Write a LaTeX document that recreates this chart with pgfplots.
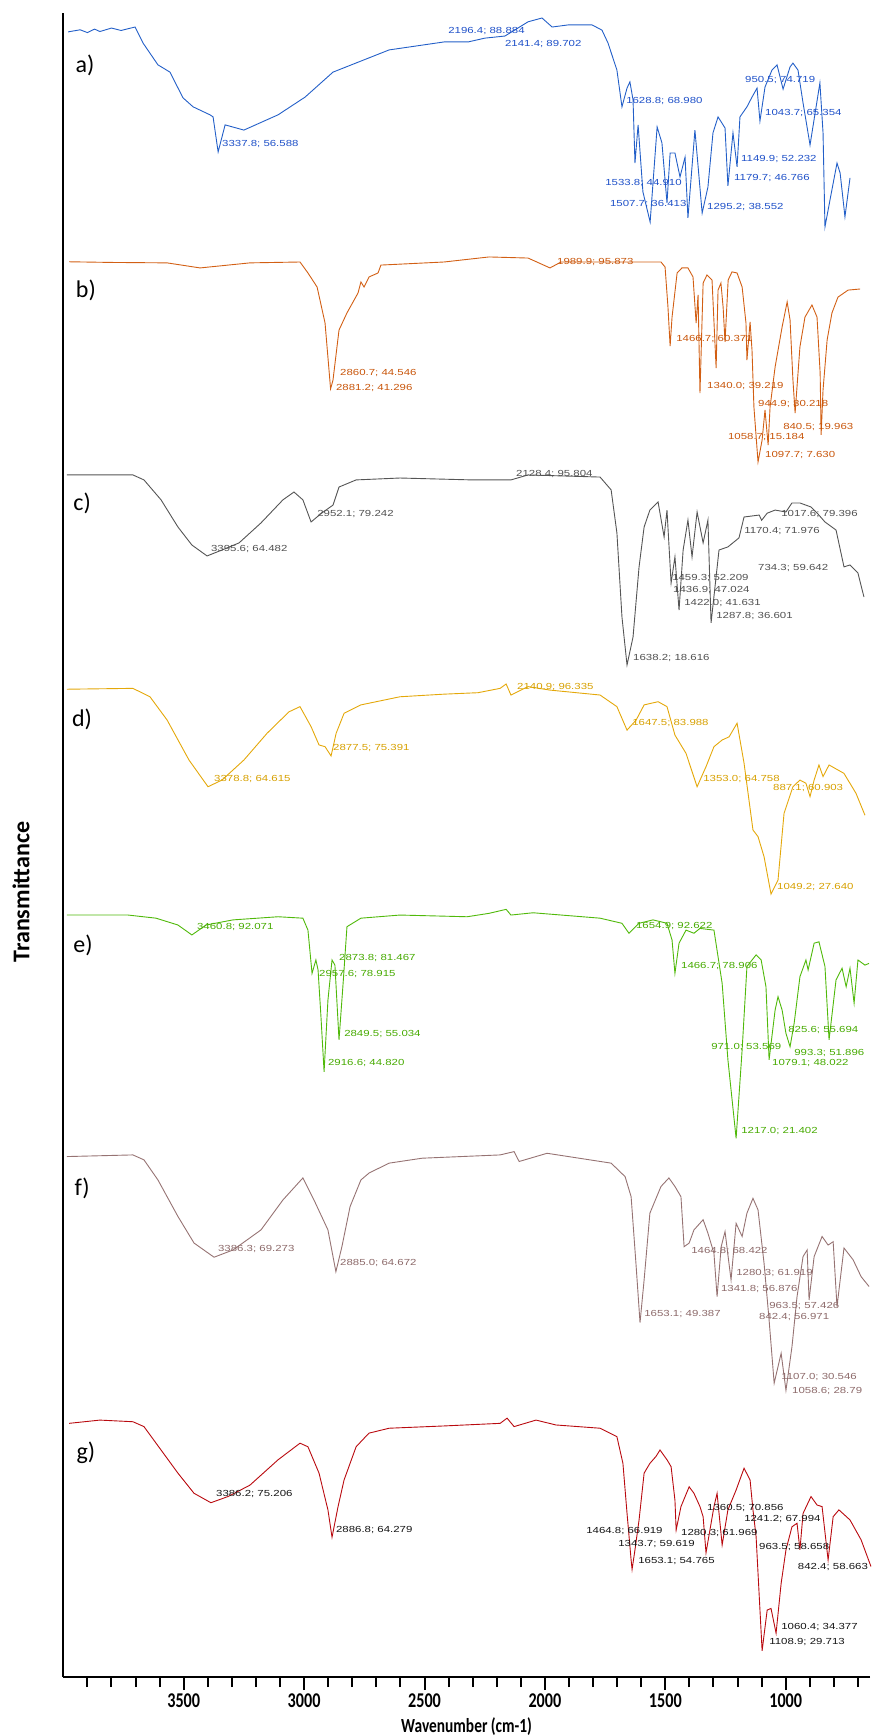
\documentclass[border=0pt]{standalone}
\usepackage{fontspec}
\setmainfont{Carlito}
\newfontfamily\annfont[FakeStretch=1.3]{Liberation Sans}
\newfontfamily\tickfont[FakeStretch=0.77]{Carlito}
\usepackage{pgfplots}
\usepackage{pgfplotstable}
\pgfplotsset{compat=1.18}
\definecolor{cA}{RGB}{35,95,200}
\definecolor{cB}{RGB}{210,95,20}
\definecolor{cC}{RGB}{85,85,85}
\definecolor{cD}{RGB}{228,168,10}
\definecolor{cE}{RGB}{80,185,10}
\definecolor{cF}{RGB}{150,115,115}
\definecolor{cG}{RGB}{185,10,15}
\definecolor{tA}{RGB}{30,80,200}
\definecolor{tB}{RGB}{200,85,10}
\definecolor{tC}{RGB}{80,80,80}
\definecolor{tD}{RGB}{215,160,0}
\definecolor{tE}{RGB}{70,170,0}
\definecolor{tF}{RGB}{140,105,105}
\definecolor{tG}{RGB}{20,20,20}

\pgfplotstableread[row sep=\\]{wn T\\
3980 91.2\\ 3930 91.8\\ 3900 91.0\\ 3870 92.0\\ 3848 91.3\\ 3800 92.3\\ 3760 91.6\\ 3702 92.6\\ 3669 88.0\\ 3607 81.7\\ 3557 79.6\\ 3503 72.2\\ 3461 69.6\\ 3391 67.3\\ 3378 66.7\\ 3357 56.6\\ 3328 64.4\\ 3250 62.9\\ 3108 67.3\\ 2996 72.4\\ 2880 79.6\\ 2647 86.0\\ 2419 88.3\\ 2319 88.3\\ 2249 89.4\\ 2166 90.0\\ 2070 94.1\\ 2012 95.2\\ 1970 92.6\\ 1904 93.2\\ 1804 93.2\\ 1763 91.7\\ 1738 88.0\\ 1701 80.2\\ 1680 69.6\\ 1659 75.0\\ 1647 76.8\\ 1634 71.6\\ 1626 53.4\\ 1613 64.4\\ 1593 45.1\\ 1563 36.4\\ 1534 63.8\\ 1514 59.2\\ 1493 41.9\\ 1480 56.3\\ 1460 56.3\\ 1439 49.4\\ 1418 55.1\\ 1406 37.6\\ 1377 62.9\\ 1347 39.0\\ 1323 46.5\\ 1302 62.1\\ 1281 66.7\\ 1252 63.5\\ 1240 46.8\\ 1219 62.1\\ 1202 52.3\\ 1190 66.7\\ 1161 69.6\\ 1140 72.4\\ 1119 75.0\\ 1107 65.5\\ 1086 75.3\\ 1057 80.2\\ 1036 81.7\\ 1011 74.7\\ 982 81.1\\ 970 82.2\\ 949 80.2\\ 928 70.7\\ 899 58.6\\ 858 76.5\\ 845 62.1\\ 837 35.0\\ 816 42.8\\ 787 53.4\\ 774 50.5\\ 754 37.9\\ 733 49.1\\
}\dataA
\pgfplotstableread[row sep=\\]{wn T\\
3976 98.7\\ 3800 98.4\\ 3569 98.2\\ 3432 95.9\\ 3225 98.2\\ 3017 98.6\\ 2984 93.6\\ 2946 87.2\\ 2913 70.8\\ 2890 40.8\\ 2880 44.8\\ 2855 67.6\\ 2822 75.4\\ 2776 84.5\\ 2764 89.5\\ 2751 87.2\\ 2730 91.8\\ 2693 93.6\\ 2681 97.2\\ 2419 98.6\\ 2232 100.9\\ 2070 100.4\\ 1979 95.9\\ 1933 98.6\\ 1518 98.6\\ 1501 96.3\\ 1489 78.1\\ 1480 60.3\\ 1472 73.5\\ 1451 93.6\\ 1431 95.9\\ 1406 95.9\\ 1385 91.8\\ 1372 70.8\\ 1364 83.6\\ 1356 38.9\\ 1343 89.0\\ 1327 92.7\\ 1306 90.4\\ 1289 50.3\\ 1281 85.8\\ 1269 89.0\\ 1260 78.1\\ 1252 62.2\\ 1239 90.4\\ 1223 94.1\\ 1202 93.6\\ 1181 87.2\\ 1165 70.8\\ 1161 53.9\\ 1148 71.3\\ 1140 58.5\\ 1132 32.5\\ 1115 7.5\\ 1098 17.5\\ 1086 31.2\\ 1073 15.2\\ 1065 32.5\\ 1044 50.8\\ 1015 69.0\\ 994 80.4\\ 982 72.2\\ 970 44.8\\ 961 29.8\\ 941 59.9\\ 920 73.5\\ 891 79.0\\ 870 73.5\\ 857 48.0\\ 853 19.8\\ 845 40.3\\ 828 63.1\\ 808 75.4\\ 783 82.6\\ 741 85.8\\ 691 86.3\\
}\dataB
\pgfplotstableread[row sep=\\]{wn T\\
3985 98.6\\ 3711 98.6\\ 3665 96.5\\ 3594 88.1\\ 3524 76.7\\ 3466 69.1\\ 3403 64.5\\ 3341 67.0\\ 3270 70.0\\ 3179 78.4\\ 3088 88.1\\ 3042 91.4\\ 3005 88.1\\ 2971 78.8\\ 2926 82.6\\ 2880 85.9\\ 2855 93.5\\ 2784 96.5\\ 2602 97.3\\ 2303 96.5\\ 2141 96.5\\ 2070 98.6\\ 1771 97.7\\ 1725 92.3\\ 1701 74.2\\ 1680 38.8\\ 1659 18.6\\ 1634 30.4\\ 1609 59.9\\ 1588 76.7\\ 1564 83.8\\ 1530 87.2\\ 1505 72.5\\ 1493 83.8\\ 1476 53.1\\ 1460 64.1\\ 1443 41.7\\ 1426 67.0\\ 1406 79.6\\ 1389 64.1\\ 1368 83.0\\ 1343 70.0\\ 1323 79.6\\ 1310 36.3\\ 1277 67.0\\ 1240 68.3\\ 1194 72.1\\ 1173 80.9\\ 1110 81.7\\ 1100 79.5\\ 1077 82.5\\ 1044 83.8\\ 999 83.0\\ 974 86.8\\ 941 86.8\\ 895 85.1\\ 870 82.6\\ 837 78.8\\ 791 75.4\\ 758 59.9\\ 733 60.7\\ 700 57.3\\ 675 47.2\\
}\dataC
\pgfplotstableread[row sep=\\]{wn T\\
3985 98.2\\ 3711 98.5\\ 3640 95.6\\ 3569 87.6\\ 3478 73.8\\ 3399 64.6\\ 3341 66.9\\ 3250 73.8\\ 3154 83.0\\ 3063 90.4\\ 3017 92.2\\ 2971 85.3\\ 2938 79.0\\ 2913 78.4\\ 2888 75.2\\ 2867 83.0\\ 2834 89.9\\ 2764 92.8\\ 2602 95.6\\ 2419 96.5\\ 2278 97.0\\ 2186 98.5\\ 2161 100.0\\ 2141 96.2\\ 2070 99.1\\ 1979 97.9\\ 1771 96.2\\ 1701 92.2\\ 1659 84.1\\ 1621 87.6\\ 1588 92.8\\ 1530 93.9\\ 1493 92.2\\ 1460 82.4\\ 1414 76.1\\ 1368 64.6\\ 1331 71.5\\ 1298 78.4\\ 1264 80.7\\ 1235 81.8\\ 1202 86.5\\ 1173 72.7\\ 1136 49.7\\ 1115 47.4\\ 1090 40.5\\ 1061 27.6\\ 1032 32.4\\ 1007 55.4\\ 970 64.6\\ 941 66.9\\ 916 65.8\\ 899 61.2\\ 882 66.9\\ 862 72.1\\ 845 68.1\\ 820 72.1\\ 758 69.2\\ 708 62.3\\ 671 54.8\\
}\dataD
\pgfplotstableread[row sep=\\]{wn T\\
3985 99.9\\ 3731 99.9\\ 3615 98.8\\ 3524 96.4\\ 3466 92.9\\ 3407 96.4\\ 3295 98.2\\ 3108 99.3\\ 3005 98.8\\ 2984 94.6\\ 2967 79.4\\ 2951 84.1\\ 2942 80.6\\ 2930 64.2\\ 2917 44.8\\ 2901 70.0\\ 2884 84.1\\ 2872 82.3\\ 2855 56.0\\ 2838 75.9\\ 2822 95.8\\ 2764 98.8\\ 2602 99.9\\ 2323 99.3\\ 2232 100.5\\ 2161 101.9\\ 2141 99.9\\ 2049 100.7\\ 1771 98.8\\ 1680 97.0\\ 1651 93.5\\ 1609 97.0\\ 1551 98.2\\ 1493 97.0\\ 1472 91.1\\ 1460 79.4\\ 1443 90.0\\ 1414 94.6\\ 1381 93.5\\ 1356 95.2\\ 1298 94.6\\ 1264 75.9\\ 1240 49.0\\ 1206 21.4\\ 1181 52.5\\ 1161 81.8\\ 1123 85.9\\ 1102 84.1\\ 1082 74.7\\ 1069 49.0\\ 1044 66.5\\ 1032 71.2\\ 1015 66.5\\ 999 58.3\\ 982 53.6\\ 965 61.8\\ 941 78.2\\ 916 84.1\\ 907 80.6\\ 882 90.0\\ 862 90.5\\ 837 81.8\\ 820 56.0\\ 791 77.1\\ 766 81.2\\ 749 74.7\\ 733 81.2\\ 716 68.9\\ 700 84.1\\ 671 82.3\\ 654 82.9\\
}\dataE
\pgfplotstableread[row sep=\\]{wn T\\
3985 99.9\\ 3711 100.4\\ 3665 98.9\\ 3607 92.8\\ 3524 81.7\\ 3457 73.6\\ 3374 69.3\\ 3295 71.5\\ 3179 77.6\\ 3088 86.7\\ 3005 93.4\\ 2959 86.7\\ 2901 77.6\\ 2868 64.9\\ 2843 72.5\\ 2809 84.7\\ 2764 92.8\\ 2730 94.9\\ 2647 97.9\\ 2510 99.4\\ 2186 100.4\\ 2128 101.4\\ 2107 98.4\\ 1991 100.9\\ 1725 97.9\\ 1667 93.8\\ 1642 87.7\\ 1622 67.5\\ 1605 49.4\\ 1588 62.4\\ 1564 82.7\\ 1518 90.8\\ 1485 93.4\\ 1460 90.8\\ 1435 87.7\\ 1422 72.5\\ 1401 73.6\\ 1381 77.6\\ 1343 80.7\\ 1323 76.6\\ 1298 70.5\\ 1285 57.3\\ 1268 72.5\\ 1252 77.1\\ 1227 62.4\\ 1206 79.6\\ 1181 75.6\\ 1161 82.7\\ 1136 87.2\\ 1115 83.7\\ 1090 67.5\\ 1069 50.2\\ 1048 31.0\\ 1019 40.1\\ 999 28.8\\ 974 42.1\\ 953 57.3\\ 928 69.5\\ 911 71.5\\ 903 56.3\\ 882 69.5\\ 849 75.6\\ 824 73.0\\ 803 74.0\\ 787 54.3\\ 758 72.1\\ 720 68.5\\ 687 63.4\\ 654 60.4\\
}\dataF
\pgfplotstableread[row sep=\\]{wn T\\
3976 99.6\\ 3848 100.6\\ 3711 100.1\\ 3665 98.6\\ 3594 91.4\\ 3524 84.3\\ 3457 78.1\\ 3387 75.2\\ 3316 77.1\\ 3225 80.6\\ 3108 88.4\\ 3017 93.5\\ 2984 92.4\\ 2938 84.3\\ 2901 73.0\\ 2884 64.6\\ 2859 74.0\\ 2834 82.2\\ 2784 92.4\\ 2751 95.0\\ 2730 96.6\\ 2647 98.1\\ 2419 98.8\\ 2186 99.6\\ 2157 101.2\\ 2128 98.6\\ 2037 100.6\\ 1954 99.1\\ 1771 98.1\\ 1701 95.5\\ 1676 87.3\\ 1659 72.0\\ 1642 57.6\\ 1638 54.7\\ 1626 60.7\\ 1609 69.9\\ 1588 84.3\\ 1564 87.3\\ 1539 89.4\\ 1522 91.4\\ 1493 88.4\\ 1476 86.3\\ 1460 76.0\\ 1455 66.8\\ 1435 74.0\\ 1401 80.1\\ 1381 78.1\\ 1356 74.0\\ 1343 70.9\\ 1331 59.8\\ 1298 74.0\\ 1285 78.1\\ 1264 62.2\\ 1240 73.0\\ 1206 79.1\\ 1173 85.8\\ 1148 82.2\\ 1136 73.0\\ 1123 64.8\\ 1098 29.7\\ 1077 42.2\\ 1061 42.7\\ 1040 35.1\\ 1019 50.4\\ 999 60.7\\ 974 67.8\\ 953 68.9\\ 941 60.7\\ 928 71.9\\ 895 77.1\\ 870 74.5\\ 849 74.0\\ 824 57.6\\ 803 70.9\\ 779 73.0\\ 733 69.9\\ 687 63.8\\ 646 55.6\\
}\dataG

\tikzset{ann/.style={anchor=west, inner sep=0pt, font=\annfont\fontsize{8.8}{8.8}\selectfont},
  plab/.style={anchor=center, inner sep=0pt, font=\fontsize{24}{24}\selectfont}}

\begin{document}
\begin{tikzpicture}
\begin{axis}[name=ax, at={(0,0)}, anchor=south west,
  scale only axis, width=806.7pt, height=1664pt,
  xmin=650, xmax=4000, ymin=0, ymax=1664, x dir=reverse,
  axis x line=bottom, axis y line=left,
  axis line style={-, line width=2.4pt, black},
  ytick=\empty,
  xtick={1000,1500,2000,2500,3000,3500},
  minor xtick={700,800,...,3900},
  tick align=outside,
  major tick length=13pt, minor tick length=10pt,
  major tick style={line width=2pt, black},
  minor tick style={line width=2pt, black},
  xticklabel style={font=\tickfont\bfseries\fontsize{21}{21}\selectfont, anchor=north, inner sep=0pt, yshift=-4pt},
  /pgf/number format/assume math mode=true,
  /pgf/number format/1000 sep={},
  clip=false]

\addplot[cA, line width=0.9pt] table[x=wn, y expr={1328.64+3.47*\thisrow{T}}] {\dataA};
\addplot[cB, line width=0.9pt] table[x=wn, y expr={1198.56+2.195*\thisrow{T}}] {\dataB};
\addplot[cC, line width=0.9pt] table[x=wn, y expr={967.79+2.376*\thisrow{T}}] {\dataC};
\addplot[cD, line width=0.9pt] table[x=wn, y expr={702.79+2.902*\thisrow{T}}] {\dataD};
\addplot[cE, line width=0.9pt] table[x=wn, y expr={477.83+2.844*\thisrow{T}}] {\dataE};
\addplot[cF, line width=0.9pt] table[x=wn, y expr={191.86+3.289*\thisrow{T}}] {\dataF};
\addplot[cG, line width=0.9pt] table[x=wn, y expr={-70.35+3.253*\thisrow{T}}] {\dataG};

% panel letters
\node[plab] at (axis cs:3910,1612) {a)};
\node[plab] at (axis cs:3906,1387) {b)};
\node[plab] at (axis cs:3922,1174) {c)};
\node[plab] at (axis cs:3922,958) {d)};
\node[plab] at (axis cs:3918,732) {e)};
\node[plab] at (axis cs:3922,489) {f)};
\node[plab] at (axis cs:3906,224) {g)};

% a
\node[ann, text=tA] at (axis cs:3341,1533) {3337.8; 56.588};
\node[ann, text=tA] at (axis cs:2402,1646) {2196.4; 88.884};
\node[ann, text=tA] at (axis cs:2166,1633) {2141.4; 89.702};
\node[ann, text=tA] at (axis cs:1663,1576) {1628.8; 68.980};
\node[ann, text=tA] at (axis cs:1750,1494) {1533.8; 44.910};
\node[ann, text=tA] at (axis cs:1730,1473) {1507.7; 36.413};
\node[ann, text=tA] at (axis cs:1327,1470) {1295.2; 38.552};
\node[ann, text=tA] at (axis cs:1215,1499) {1179.7; 46.766};
\node[ann, text=tA] at (axis cs:1186,1518) {1149.9; 52.232};
\node[ann, text=tA] at (axis cs:1086,1564) {1043.7; 65.354};
\node[ann, text=tA] at (axis cs:1169,1597) {950.5; 74.719};
% b
\node[ann, text=tB] at (axis cs:1950,1415) {1989.9; 95.873};
\node[ann, text=tB] at (axis cs:2851,1304) {2860.7; 44.546};
\node[ann, text=tB] at (axis cs:2868,1289) {2881.2; 41.296};
\node[ann, text=tB] at (axis cs:1455,1338) {1466.7; 60.371};
\node[ann, text=tB] at (axis cs:1327,1291) {1340.0; 39.219};
\node[ann, text=tB] at (axis cs:1115,1273) {944.9; 30.218};
\node[ann, text=tB] at (axis cs:1011,1250) {840.5; 19.963};
\node[ann, text=tB] at (axis cs:1240,1240) {1058.7; 15.184};
\node[ann, text=tB] at (axis cs:1086,1222) {1097.7; 7.630};
% c
\node[ann, text=tC] at (axis cs:2120,1203) {2128.4; 95.804};
\node[ann, text=tC] at (axis cs:2946,1163) {2952.1; 79.242};
\node[ann, text=tC] at (axis cs:3387,1128) {3395.6; 64.482};
\node[ann, text=tC] at (axis cs:1019,1163) {1017.6; 79.396};
\node[ann, text=tC] at (axis cs:1173,1146) {1170.4; 71.976};
\node[ann, text=tC] at (axis cs:1115,1109) {734.3; 59.642};
\node[ann, text=tC] at (axis cs:1472,1099) {1459.3; 52.209};
\node[ann, text=tC] at (axis cs:1468,1087) {1436.9; 47.024};
\node[ann, text=tC] at (axis cs:1422,1074) {1422.0; 41.631};
\node[ann, text=tC] at (axis cs:1289,1061) {1287.8; 36.601};
\node[ann, text=tC] at (axis cs:1634,1019) {1638.2; 18.616};
% d
\node[ann, text=tD] at (axis cs:2116,990) {2140.9; 96.335};
\node[ann, text=tD] at (axis cs:1638,954) {1647.5; 83.988};
\node[ann, text=tD] at (axis cs:2880,929) {2877.5; 75.391};
\node[ann, text=tD] at (axis cs:3374,898) {3378.8; 64.615};
\node[ann, text=tD] at (axis cs:1343,898) {1353.0; 64.758};
\node[ann, text=tD] at (axis cs:1053,889) {887.1; 60.903};
\node[ann, text=tD] at (axis cs:1036,790) {1049.2; 27.640};
% e
\node[ann, text=tE] at (axis cs:3445,750) {3460.8; 92.071};
\node[ann, text=tE] at (axis cs:1622,751) {1654.9; 92.622};
\node[ann, text=tE] at (axis cs:2855,719) {2873.8; 81.467};
\node[ann, text=tE] at (axis cs:2938,703) {2957.6; 78.915};
\node[ann, text=tE] at (axis cs:1435,711) {1466.7; 78.906};
\node[ann, text=tE] at (axis cs:2834,643) {2849.5; 55.034};
\node[ann, text=tE] at (axis cs:2901,614) {2916.6; 44.820};
\node[ann, text=tE] at (axis cs:990,647) {825.6; 55.694};
\node[ann, text=tE] at (axis cs:1310,630) {971.0; 53.569};
\node[ann, text=tE] at (axis cs:965,624) {993.3; 51.896};
\node[ann, text=tE] at (axis cs:1057,614) {1079.1; 48.022};
\node[ann, text=tE] at (axis cs:1185,546) {1217.0; 21.402};
% f
\node[ann, text=tF] at (axis cs:3358,428) {3386.3; 69.273};
\node[ann, text=tF] at (axis cs:2851,414) {2885.0; 64.672};
\node[ann, text=tF] at (axis cs:1393,426) {1464.8; 68.422};
\node[ann, text=tF] at (axis cs:1206,404) {1280.3; 61.919};
\node[ann, text=tF] at (axis cs:1269,388) {1341.8; 56.876};
\node[ann, text=tF] at (axis cs:1069,371) {963.5; 57.426};
\node[ann, text=tF] at (axis cs:1111,360) {842.4; 56.971};
\node[ann, text=tF] at (axis cs:1588,363) {1653.1; 49.387};
\node[ann, text=tF] at (axis cs:1019,300) {1107.0; 30.546};
\node[ann, text=tF] at (axis cs:974,286) {1058.6; 28.79};
% g
\node[ann, text=tG] at (axis cs:3366,183) {3386.2; 75.206};
\node[ann, text=tG] at (axis cs:2868,147) {2886.8; 64.279};
\node[ann, text=tG] at (axis cs:1829,146) {1464.8; 66.919};
\node[ann, text=tG] at (axis cs:1327,169) {1360.5; 70.856};
\node[ann, text=tG] at (axis cs:1173,158) {1241.2; 67.994};
\node[ann, text=tG] at (axis cs:1435,144) {1280.3; 61.969};
\node[ann, text=tG] at (axis cs:1696,133) {1343.7; 59.619};
\node[ann, text=tG] at (axis cs:1111,130) {963.5; 58.658};
\node[ann, text=tG] at (axis cs:1613,116) {1653.1; 54.765};
\node[ann, text=tG] at (axis cs:950,110) {842.4; 58.663};
\node[ann, text=tG] at (axis cs:1019,50) {1060.4; 34.377};
\node[ann, text=tG] at (axis cs:1069,35) {1108.9; 29.713};

% axis titles
\node[rotate=90, anchor=center, font=\bfseries\fontsize{24}{24}\selectfont] at (axis description cs:-0.0524,0.4717) {Transmittance};
\node[anchor=center, font=\tickfont\bfseries\fontsize{20}{20}\selectfont] at (axis description cs:0.5,-0.0300) {Wavenumber (cm-1)};
\end{axis}
\pgfresetboundingbox
\path[use as bounding box] (ax.south west) ++(-63.3pt,-58pt) rectangle ++(871pt,1735pt);
\end{tikzpicture}
\end{document}
